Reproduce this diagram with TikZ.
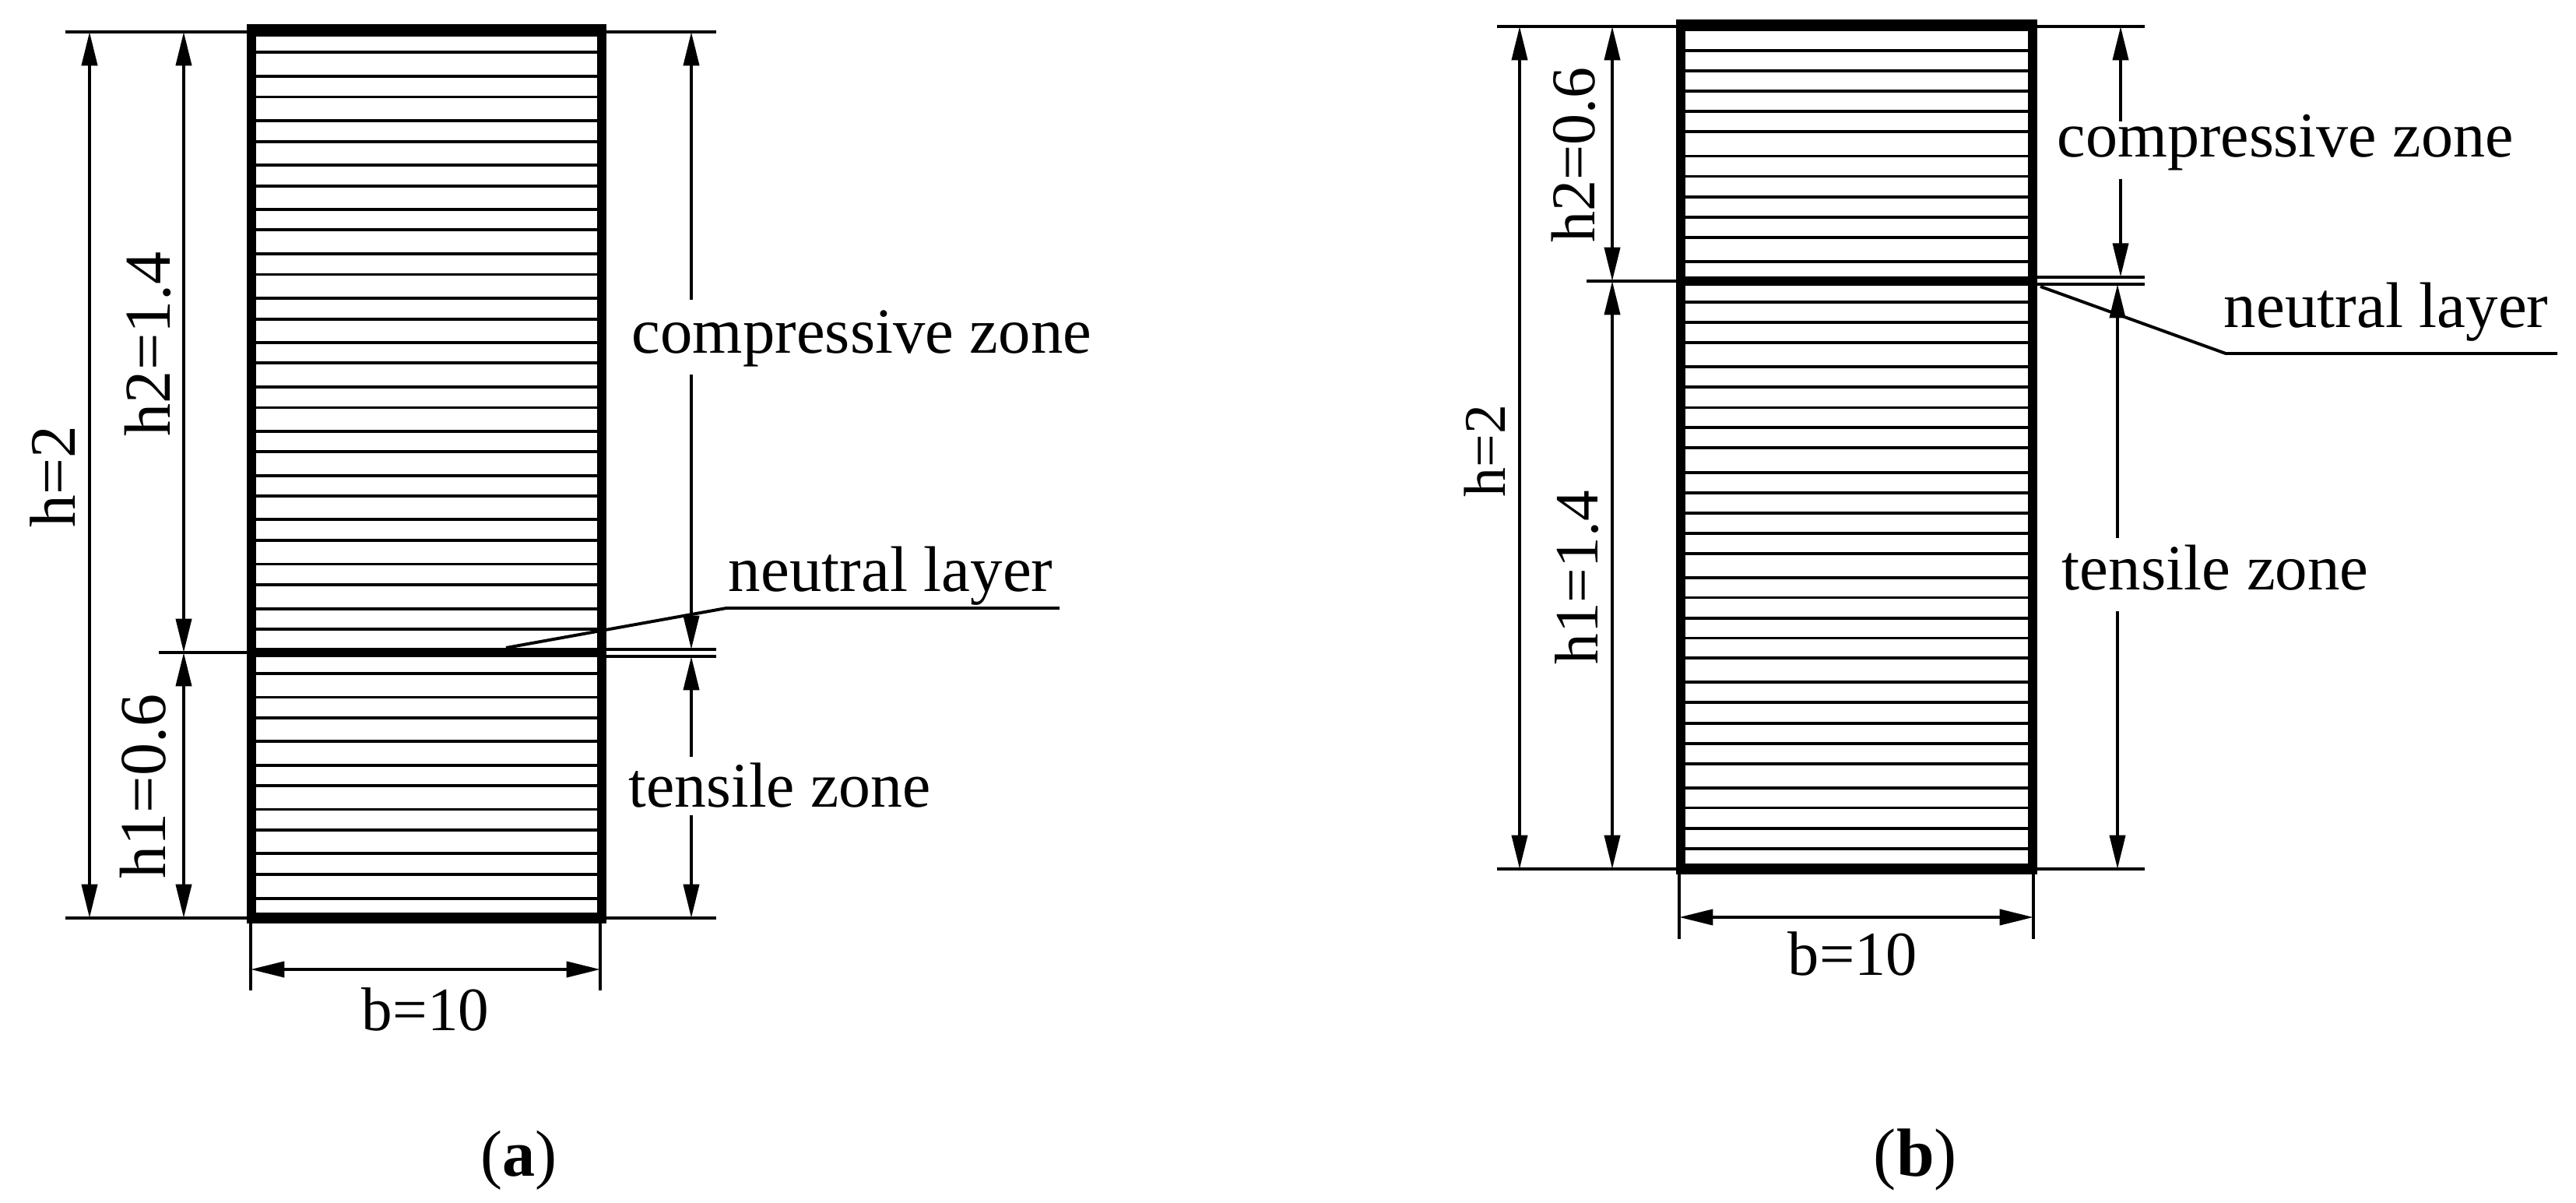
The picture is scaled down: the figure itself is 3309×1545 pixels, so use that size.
\documentclass[tikz,border=0pt]{standalone}
\usepackage{fontspec}
\setmainfont{Liberation Serif}
\usetikzlibrary{arrows.meta}
\newcommand{\tf}[1]{\fontsize{#1pt}{#1pt}\selectfont}
\tikzset{
  thin line/.style={line width=0.95pt,line cap=butt},
  hatchline/.style={line width=0.95pt},
  wall/.style={line width=2.8pt,line cap=butt},
  band/.style={line width=3.4pt,line cap=butt},
  tip/.tip={Triangle[length=10.4pt,width=4.8pt]},
  dimboth/.style={thin line,{tip}-{tip}},
  dimstart/.style={thin line,{tip}-},
  dimend/.style={thin line,-{tip}},
  lbl/.style={inner sep=0pt,anchor=base west},
  vlbl/.style={inner sep=0pt,anchor=base west,rotate=90},
}
\begin{document}
\begin{tikzpicture}[x=0.24pt,y=-0.24pt]
\useasboundingbox[fill=white] (0,0) rectangle (3309,1545);

%%%%% panel a
\coordinate (aTL) at (323,39); \coordinate (aTR) at (773,39);
\coordinate (aBL) at (323,1179); \coordinate (aBR) at (773,1179);
\coordinate (aNL) at (323,838); \coordinate (aNR) at (773,838);
\foreach \y in {67.3,98,124.5,155,181.6,212,238.8,268.9,295.4,326,352.5,383.2,409.7,439.8,466.3,496.9,523.5,553.6,580,610.7,637.2,667.3,693.9,724.5,751,781.6,807.8,865,895.5,921.9,952.3,982.7,1009,1039.5,1065.9,1096.3,1122.6,1154}
  \draw[hatchline] (323,\y) -- (773,\y);
\draw[wall] (323,31) -- (323,1186);
\draw[wall] (773,31) -- (773,1186);
\draw[band,line width=3.9pt] (317,39) -- (779,39);
\draw[band] (317,1179) -- (779,1179);
\draw[band,line width=3pt] (aNL) -- (aNR);
% extension lines
\coordinate (aE1) at (84,41); \coordinate (aE2) at (920,41);
\coordinate (aE3) at (84,1179); \coordinate (aE4) at (920,1179);
\coordinate (aE5) at (204,838);
\coordinate (aE6) at (920,834); \coordinate (aE7) at (920,843);
\draw[thin line] (aE1) -- (aTL |- aE1);
\draw[thin line] (aTR |- aE2) -- (aE2);
\draw[thin line] (aE3) -- (aBL);
\draw[thin line] (aBR) -- (aE4);
\draw[thin line] (aE5) -- (aNL);
\draw[thin line] (773,834) -- (aE6);
\draw[thin line] (773,843) -- (aE7);
% dimensions
\draw[dimboth] (115,41) -- (115,1179);
\draw[dimboth] (236,41) -- (236,838);
\draw[dimboth] (236,838) -- (236,1179);
\coordinate (aC1) at (888,385); \coordinate (aC2) at (888,481);
\coordinate (aT1) at (888,972); \coordinate (aT2) at (888,1047);
\draw[dimstart] (888,41) -- (aC1);
\draw[dimend] (aC2) -- (888,834);
\draw[dimstart] (888,843) -- (aT1);
\draw[dimend] (aT2) -- (888,1179);
\draw[thin line] (322,1186) -- (322,1272);
\draw[thin line] (771,1186) -- (771,1272);
\draw[dimboth] (322,1245) -- (771,1245);
% leader
\coordinate (aL1) at (650,832); \coordinate (aL2) at (933,781); \coordinate (aL3) at (1361,781);
\draw[thin line,line join=round] (aL1) -- (aL2) -- (aL3);
% labels
\node[vlbl] (ah) at (96,678) {\tf{20}h=2};
\node[vlbl] (ah2) at (218,561) {\tf{20.2}h2=1.4};
\node[vlbl] (ah1) at (212,1129) {\tf{20.2}h1=0.6};
\node[lbl] (acz) at (811,454) {\tf{19.85}compressive zone};
\node[lbl] (anl) at (935,760) {\tf{19.9}neutral layer};
\node[lbl] (atz) at (807,1036) {\tf{19.6}tensile zone};
\node[lbl] (ab) at (464,1323) {\tf{19}b=10};
\node[lbl] (acap) at (617,1510) {\tf{20.2}(\textbf{a})};

%%%%% panel b
\coordinate (bTL) at (2159,33); \coordinate (bTR) at (2611,33);
\coordinate (bBL) at (2159,1116); \coordinate (bBR) at (2611,1116);
\coordinate (bNL) at (2159,361); \coordinate (bNR) at (2611,361);
\foreach \y in {64.8,90.8,116.8,142.9,168.9,200.5,226.5,252.6,278.6,304.6,335.7,387.8,413.8,439.8,471,497,523.5,549,575,606.6,632.6,658.7,684.7,710.7,741.9,767.5,794,819.5,845.3,876.2,902.1,929,954.8,980.7,1012,1037.5,1064.3,1089.7}
  \draw[hatchline] (2159,\y) -- (2611,\y);
\draw[wall] (2159,26) -- (2159,1123);
\draw[wall] (2611,26) -- (2611,1123);
\draw[band,line width=3.6pt] (2153,33) -- (2617,33);
\draw[band] (2153,1116) -- (2617,1116);
\draw[band,line width=3pt] (bNL) -- (bNR);
% extension lines
\coordinate (bE1) at (1923,34); \coordinate (bE2) at (2755,34);
\coordinate (bE3) at (1923,1116); \coordinate (bE4) at (2755,1116);
\coordinate (bE5) at (2038,361);
\coordinate (bE6) at (2755,355.6); \coordinate (bE7) at (2755,365);
\draw[thin line] (bE1) -- (bTL |- bE1);
\draw[thin line] (bTR |- bE2) -- (bE2);
\draw[thin line] (bE3) -- (bBL);
\draw[thin line] (bBR) -- (bE4);
\draw[thin line] (bE5) -- (bNL);
\draw[thin line] (2611,355.6) -- (bE6);
\draw[thin line] (2611,365) -- (bE7);
% dimensions
\draw[dimboth] (1952,34) -- (1952,1116);
\draw[dimboth] (2071,34) -- (2071,361);
\draw[dimboth] (2071,361) -- (2071,1116);
\coordinate (bC1) at (2724,155.6); \coordinate (bC2) at (2724,229.6);
\coordinate (bT1) at (2720,691); \coordinate (bT2) at (2720,785.5);
\draw[dimstart] (2724,34) -- (bC1);
\draw[dimend] (bC2) -- (2724,355.6);
\draw[dimstart] (2720,365) -- (bT1);
\draw[dimend] (bT2) -- (2720,1116);
\draw[thin line] (2157,1123) -- (2157,1206);
\draw[thin line] (2612,1123) -- (2612,1206);
\draw[dimboth] (2157,1178) -- (2612,1178);
% leader
\coordinate (bL1) at (2621,368); \coordinate (bL2) at (2859,454); \coordinate (bL3) at (3285,454);
\draw[thin line,line join=round] (bL1) -- (bL2) -- (bL3);
% labels
\node[vlbl] (bh) at (1933,639) {\tf{18.2}h=2};
\node[vlbl] (bh2) at (2048,312) {\tf{19.2}h2=0.6};
\node[vlbl] (bh1) at (2052,854) {\tf{19}h1=1.4};
\node[lbl] (bcz) at (2642,201.5) {\tf{19.7}compressive zone};
\node[lbl] (bnl) at (2856,421) {\tf{19.9}neutral layer};
\node[lbl] (btz) at (2648,757.6) {\tf{19.9}tensile zone};
\node[lbl] (bb) at (2296,1252) {\tf{19.3}b=10};
\node[lbl] (bcap) at (2406,1510) {\tf{21}(\textbf{b})};
\end{tikzpicture}
\end{document}
